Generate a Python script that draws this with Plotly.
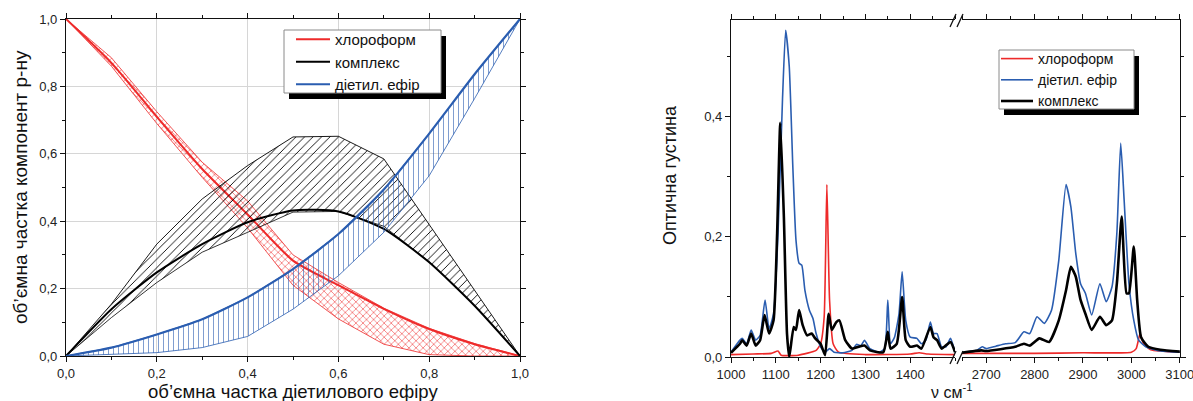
import plotly.graph_objects as go

W, H = 1193, 401

# ---------------- left panel data ----------------
frac = [0.0, 0.1, 0.2, 0.3, 0.4, 0.5, 0.6, 0.7, 0.8, 0.9, 1.0]
chl_line = [1.0, 0.87, 0.71, 0.555, 0.42, 0.283, 0.21, 0.14, 0.08, 0.035, 0.0]
chl_upper = [1.0, 0.885, 0.725, 0.575, 0.46, 0.30, 0.218, 0.142, 0.082, 0.037, 0.0]
chl_lower = [1.0, 0.86, 0.69, 0.53, 0.38, 0.21, 0.11, 0.035, 0.004, 0.0, 0.0]
cpx_line = [0.0, 0.139, 0.248, 0.332, 0.397, 0.432, 0.429, 0.377, 0.278, 0.149, 0.0]
cpx_upper = [0.0, 0.154, 0.332, 0.466, 0.565, 0.65, 0.652, 0.585, 0.39, 0.195, 0.0]
cpx_lower = [0.0, 0.114, 0.218, 0.308, 0.367, 0.427, 0.429, 0.385, 0.28, 0.15, 0.0]
eth_line = [0.0, 0.025, 0.064, 0.109, 0.174, 0.258, 0.362, 0.494, 0.66, 0.836, 1.0]
eth_lower = [0.0, 0.005, 0.01, 0.025, 0.058, 0.139, 0.238, 0.367, 0.535, 0.764, 1.0]

left_ticks = [0.0, 0.2, 0.4, 0.6, 0.8, 1.0]
left_ticktext = ["0,0", "0,2", "0,4", "0,6", "0,8", "1,0"]

# ---------------- right panel data ----------------
eth_lo_x = [1000, 1020, 1025, 1035, 1045, 1055, 1065, 1076, 1085, 1095, 1105, 1115, 1122, 1130,
            1138, 1145, 1152, 1158, 1165, 1175, 1183, 1190, 1200, 1210, 1220, 1230, 1250, 1270,
            1280, 1290, 1298, 1310, 1330, 1343, 1350, 1356, 1365, 1375, 1382, 1390, 1400, 1415,
            1425, 1435, 1445, 1452, 1460, 1470, 1480, 1490, 1500]
eth_lo_y = [0.008, 0.028, 0.031, 0.022, 0.045, 0.028, 0.036, 0.095, 0.047, 0.072, 0.206, 0.43, 0.544, 0.484,
            0.317, 0.195, 0.156, 0.153, 0.111, 0.078, 0.064, 0.039, 0.017, 0.008, 0.014, 0.008, 0.007, 0.011,
            0.021, 0.019, 0.028, 0.014, 0.008, 0.014, 0.095, 0.022, 0.033, 0.072, 0.142, 0.061, 0.033, 0.031,
            0.022, 0.028, 0.058, 0.039, 0.039, 0.017, 0.017, 0.031, 0.008]
cpx_lo_x = [1000, 1020, 1025, 1035, 1045, 1055, 1065, 1075, 1085, 1095, 1103, 1110, 1118, 1125, 1130,
            1140, 1145, 1152, 1160, 1170, 1180, 1188, 1200, 1210, 1218, 1225, 1235, 1242, 1255, 1270,
            1285, 1298, 1310, 1340, 1350, 1356, 1370, 1382, 1390, 1400, 1415, 1425, 1445, 1452, 1460,
            1470, 1490, 1500]
cpx_lo_y = [0.007, 0.022, 0.028, 0.019, 0.039, 0.019, 0.028, 0.07, 0.039, 0.061, 0.206, 0.39, 0.234, 0.039, 0.0,
            0.05, 0.045, 0.078, 0.053, 0.036, 0.039, 0.031, 0.022, 0.003, 0.072, 0.045, 0.058, 0.061, 0.028, 0.014,
            0.017, 0.019, 0.011, 0.008, 0.042, 0.014, 0.022, 0.1, 0.028, 0.017, 0.019, 0.014, 0.05, 0.033, 0.028,
            0.014, 0.025, 0.008]
chl_lo_x = [1000, 1050, 1090, 1105, 1112, 1150, 1190, 1200, 1208, 1214, 1220, 1228, 1240, 1300, 1400, 1420, 1440, 1500]
chl_lo_y = [0.004, 0.005, 0.006, 0.01, 0.003, 0.003, 0.011, 0.022, 0.067, 0.287, 0.095, 0.022, 0.008, 0.004, 0.005, 0.007, 0.005, 0.004]

eth_hi_x = [2650, 2680, 2692, 2700, 2720, 2740, 2760, 2778, 2790, 2805, 2820, 2835, 2850, 2865, 2875,
            2885, 2895, 2905, 2918, 2935, 2948, 2960, 2970, 2978, 2985, 2995, 3005, 3015, 3030, 3060, 3100]
eth_hi_y = [0.008, 0.011, 0.017, 0.014, 0.018, 0.022, 0.024, 0.042, 0.039, 0.067, 0.056, 0.078, 0.161, 0.287, 0.25,
            0.173, 0.122, 0.106, 0.07, 0.122, 0.092, 0.117, 0.206, 0.356, 0.262, 0.122, 0.061, 0.028, 0.017, 0.01, 0.008]
cpx_hi_x = [2650, 2690, 2700, 2760, 2778, 2790, 2810, 2830, 2850, 2865, 2875, 2885, 2895, 2905, 2918,
            2935, 2948, 2960, 2970, 2980, 2990, 2995, 3005, 3012, 3020, 3035, 3060, 3100]
cpx_hi_y = [0.007, 0.011, 0.01, 0.017, 0.022, 0.019, 0.031, 0.025, 0.061, 0.111, 0.15, 0.134, 0.095, 0.072, 0.045,
            0.067, 0.053, 0.061, 0.122, 0.234, 0.106, 0.106, 0.184, 0.095, 0.033, 0.017, 0.012, 0.009]
chl_hi_x = [2650, 2800, 2900, 3000, 3010, 3018, 3025, 3040, 3100]
chl_hi_y = [0.006, 0.006, 0.007, 0.008, 0.014, 0.039, 0.022, 0.012, 0.008]

low_ticks = [1000, 1100, 1200, 1300, 1400]
high_ticks = [2700, 2800, 2900, 3000, 3100]
od_ticks = [0.0, 0.2, 0.4]
od_ticktext = ["0,0", "0,2", "0,4"]

RED = "#ee2a2a"
BLUE = "#2a5db0"
BLACK = "#000000"
FONT = "Liberation Sans, Arial, sans-serif"


def px_x(p):
    return p / W


def px_y(p):
    return 1 - p / H


fig = go.Figure()

# left: chloroform band + line
fig.add_trace(go.Scatter(x=frac, y=chl_lower, mode="lines", line=dict(color=RED, width=0.8),
                         showlegend=False, xaxis="x", yaxis="y", hoverinfo="skip"))
fig.add_trace(go.Scatter(x=frac, y=chl_upper, mode="lines", line=dict(color=RED, width=0.8),
                         fill="tonexty", fillcolor="rgba(0,0,0,0)",
                         fillpattern=dict(shape="x", fgcolor=RED, bgcolor="rgba(0,0,0,0)", size=5, solidity=0.2),
                         showlegend=False, xaxis="x", yaxis="y", hoverinfo="skip"))
fig.add_trace(go.Scatter(x=frac, y=chl_line, mode="lines", name="хлороформ",
                         line=dict(color=RED, width=2, shape="spline", smoothing=0.6),
                         legend="legend", xaxis="x", yaxis="y"))
# complex band + line
fig.add_trace(go.Scatter(x=frac, y=cpx_lower, mode="lines", line=dict(color=BLACK, width=0.8),
                         showlegend=False, xaxis="x", yaxis="y", hoverinfo="skip"))
fig.add_trace(go.Scatter(x=frac, y=cpx_upper, mode="lines", line=dict(color=BLACK, width=0.9),
                         fill="tonexty", fillcolor="rgba(0,0,0,0)",
                         fillpattern=dict(shape="/", fgcolor=BLACK, bgcolor="rgba(0,0,0,0)", size=6, solidity=0.15),
                         showlegend=False, xaxis="x", yaxis="y", hoverinfo="skip"))
fig.add_trace(go.Scatter(x=frac, y=cpx_line, mode="lines", name="комплекс",
                         line=dict(color=BLACK, width=2, shape="spline", smoothing=0.6),
                         legend="legend", xaxis="x", yaxis="y"))
# ether band + line
fig.add_trace(go.Scatter(x=frac, y=eth_lower, mode="lines", line=dict(color=BLUE, width=0.8),
                         showlegend=False, xaxis="x", yaxis="y", hoverinfo="skip"))
fig.add_trace(go.Scatter(x=frac, y=eth_line, mode="lines", line=dict(color=BLUE, width=0.8),
                         fill="tonexty", fillcolor="rgba(0,0,0,0)",
                         fillpattern=dict(shape="|", fgcolor=BLUE, bgcolor="rgba(0,0,0,0)", size=5, solidity=0.12),
                         showlegend=False, xaxis="x", yaxis="y", hoverinfo="skip"))
fig.add_trace(go.Scatter(x=frac, y=eth_line, mode="lines", name="дiетил. ефiр",
                         line=dict(color=BLUE, width=2.2, shape="spline", smoothing=0.6),
                         legend="legend", xaxis="x", yaxis="y"))

# right: spectra
sm = dict(shape="spline", smoothing=0.5)
fig.add_trace(go.Scatter(x=chl_lo_x, y=chl_lo_y, mode="lines", name="хлороформ",
                         line=dict(color=RED, width=1.6, **sm), legend="legend2", xaxis="x2", yaxis="y2"))
fig.add_trace(go.Scatter(x=eth_lo_x, y=eth_lo_y, mode="lines", name="дiетил. ефiр",
                         line=dict(color=BLUE, width=1.6, **sm), legend="legend2", xaxis="x2", yaxis="y2"))
fig.add_trace(go.Scatter(x=cpx_lo_x, y=cpx_lo_y, mode="lines", name="комплекс",
                         line=dict(color=BLACK, width=2.6, **sm), legend="legend2", xaxis="x2", yaxis="y2"))
fig.add_trace(go.Scatter(x=chl_hi_x, y=chl_hi_y, mode="lines", showlegend=False,
                         line=dict(color=RED, width=1.6, **sm), xaxis="x3", yaxis="y3"))
fig.add_trace(go.Scatter(x=eth_hi_x, y=eth_hi_y, mode="lines", showlegend=False,
                         line=dict(color=BLUE, width=1.6, **sm), xaxis="x3", yaxis="y3"))
fig.add_trace(go.Scatter(x=cpx_hi_x, y=cpx_hi_y, mode="lines", showlegend=False,
                         line=dict(color=BLACK, width=2.6, **sm), xaxis="x3", yaxis="y3"))

tickfont = dict(family=FONT, size=13, color="#222")
common = dict(showline=True, linecolor="#111", linewidth=1.3, ticks="outside", ticklen=5, tickwidth=1.2,
              tickcolor="#111", zeroline=False, tickfont=tickfont, automargin=False,
              ticklabeloverflow="allow")

fig.update_layout(
    width=W, height=H, margin=dict(l=0, r=0, t=0, b=0), template="none",
    paper_bgcolor="white", plot_bgcolor="white",
    font=dict(family=FONT, size=14, color="#222"),
    xaxis=dict(domain=[px_x(66), px_x(520)], range=[0, 1], anchor="y", tickvals=left_ticks,
               ticktext=left_ticktext, mirror="ticks", showgrid=True, gridcolor="#d6d6d6", gridwidth=1,
               minor=dict(ticks="outside", ticklen=3, dtick=0.1, tick0=0, tickcolor="#111", showgrid=False),
               **common),
    yaxis=dict(domain=[px_y(356), px_y(19)], range=[0, 1], anchor="x", tickvals=left_ticks,
               ticktext=left_ticktext, mirror="ticks", showgrid=True, gridcolor="#d6d6d6", gridwidth=1,
               minor=dict(ticks="outside", ticklen=3, dtick=0.1, tick0=0, tickcolor="#111", showgrid=False),
               **common),
    xaxis2=dict(domain=[px_x(731), px_x(955)], range=[1000, 1500], anchor="y2", tickvals=low_ticks,
                ticktext=[str(v) for v in low_ticks], mirror="ticks", showgrid=False,
                minor=dict(ticks="outside", ticklen=3, dtick=50, tick0=1000, tickcolor="#111"),
                **common),
    xaxis3=dict(domain=[px_x(962), px_x(1180)], range=[2650, 3100.5], anchor="y3", tickvals=high_ticks,
                ticktext=[str(v) for v in high_ticks], mirror="ticks", showgrid=False,
                minor=dict(ticks="outside", ticklen=3, dtick=50, tick0=2650, tickcolor="#111"),
                **common),
    yaxis2=dict(domain=[px_y(357), px_y(20)], range=[0, 0.561], anchor="x2", tickvals=od_ticks,
                ticktext=od_ticktext, showgrid=False,
                minor=dict(ticks="outside", ticklen=3, dtick=0.1, tick0=0, tickcolor="#111"),
                **common),
    yaxis3=dict(domain=[px_y(357), px_y(20)], range=[0, 0.561], anchor="x3", matches="y2", side="right",
                showticklabels=False, tickvals=od_ticks, showgrid=False,
                minor=dict(ticks="outside", ticklen=3, dtick=0.1, tick0=0, tickcolor="#111"),
                **common),
    legend=dict(x=px_x(291), y=px_y(62), xanchor="left", yanchor="middle", bgcolor="rgba(0,0,0,0)",
                borderwidth=0, font=dict(family=FONT, size=15, color="#111"), traceorder="normal",
                tracegroupgap=0, itemwidth=34),
    legend2=dict(x=px_x(996), y=px_y(80), xanchor="left", yanchor="middle", bgcolor="rgba(0,0,0,0)",
                 borderwidth=0, font=dict(family=FONT, size=14, color="#111"), traceorder="normal",
                 tracegroupgap=0, itemwidth=32),
)

shapes = []
# legend shadows and boxes
for (bx0, by0, bx1, by1) in [(284, 30, 441, 93), (999, 50, 1134, 109)]:
    shapes.append(dict(type="rect", xref="paper", yref="paper", x0=px_x(bx0 + 5), x1=px_x(bx1 + 5),
                       y0=px_y(by1 + 6), y1=px_y(by0 + 6), fillcolor="black", line=dict(width=0), layer="above"))
    shapes.append(dict(type="rect", xref="paper", yref="paper", x0=px_x(bx0), x1=px_x(bx1),
                       y0=px_y(by1), y1=px_y(by0), fillcolor="white", line=dict(color="#8a8a8a", width=1),
                       layer="above"))
# axis break marks
for (yb, yt) in [(27, 14), (364, 351)]:
    for xo in (950, 957):
        shapes.append(dict(type="line", xref="paper", yref="paper", x0=px_x(xo), y0=px_y(yb),
                           x1=px_x(xo + 6), y1=px_y(yt), line=dict(color="#111", width=1.3)))
fig.update_layout(shapes=shapes)

fig.update_layout(annotations=[
    dict(text="об’ємна частка діетилового ефіру", x=px_x(293), y=px_y(379), xref="paper", yref="paper",
         xanchor="center", yanchor="top", showarrow=False, font=dict(family=FONT, size=18.5, color="#111")),
    dict(text="об’ємна частка компонент р-ну", x=px_x(21), y=px_y(187), xref="paper", yref="paper",
         xanchor="center", yanchor="middle", textangle=-90, showarrow=False,
         font=dict(family=FONT, size=19, color="#111")),
    dict(text="Оптична густина", x=px_x(670), y=px_y(175), xref="paper", yref="paper",
         xanchor="center", yanchor="middle", textangle=-90, showarrow=False,
         font=dict(family=FONT, size=18, color="#111")),
    dict(text="ν см<sup>-1</sup>", x=px_x(951), y=px_y(379), xref="paper", yref="paper",
         xanchor="center", yanchor="top", showarrow=False, font=dict(family=FONT, size=16, color="#111")),
])

fig.write_html("out.html")
